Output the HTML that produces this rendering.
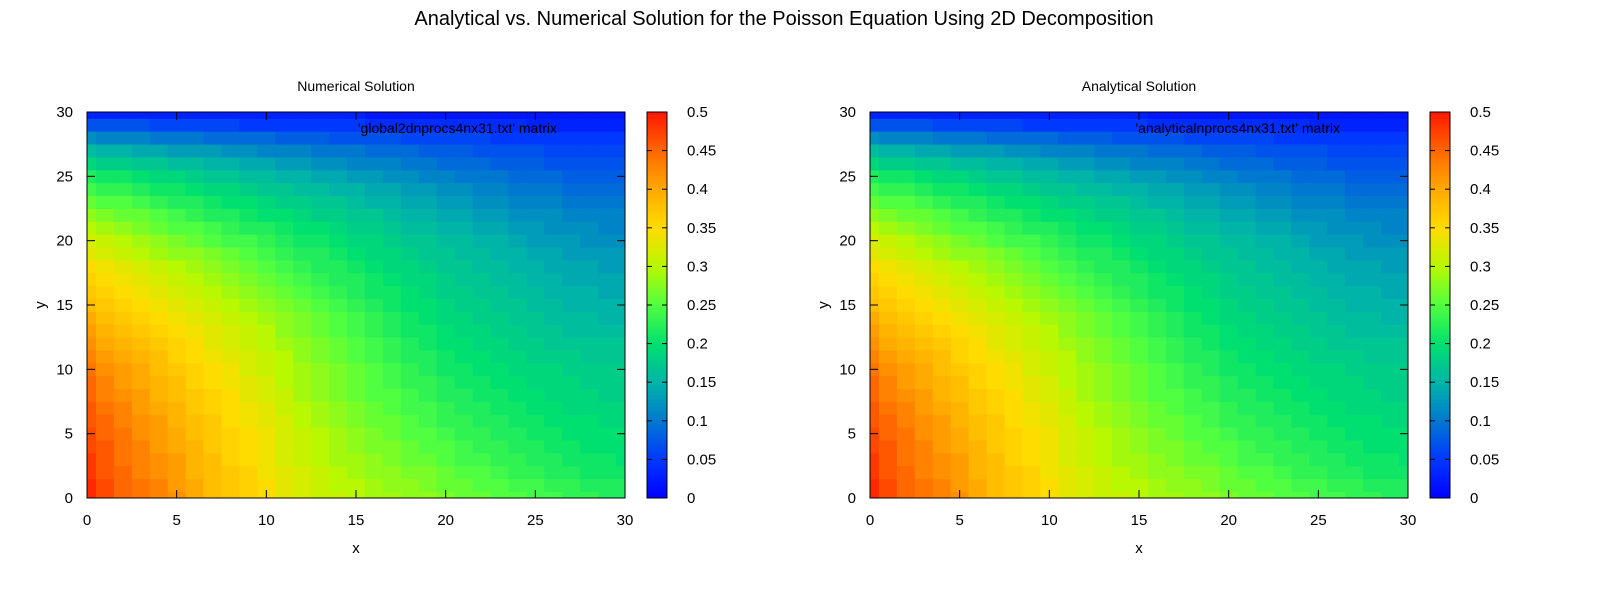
<!DOCTYPE html>
<html><head><meta charset="utf-8"><style>
html,body{margin:0;padding:0;background:#fff;overflow:hidden;width:1600px;height:600px;}
svg{display:block;}
svg text{font-family:"Liberation Sans",sans-serif;fill:#000;}
</style></head><body>
<svg id="chart" width="1600" height="600" xmlns="http://www.w3.org/2000/svg">
<text x="784" y="25" font-size="20" text-anchor="middle">Analytical vs. Numerical Solution for the Poisson Equation Using 2D Decomposition</text>
</svg>
<script>
const xTicks=[0,5,10,15,20,25,30];
const yTicks=[0,5,10,15,20,25,30];
const cbTicks=[0,0.05,0.1,0.15,0.2,0.25,0.3,0.35,0.4,0.45,0.5];
const cbLabels=["0","0.05","0.1","0.15","0.2","0.25","0.3","0.35","0.4","0.45","0.5"];
const paletteVals=[0,.05,.1,.15,.2,.25,.3,.35,.4,.45,.5];
const paletteCols=["#0000ff","#0038ff","#0078d0","#00b4a8","#00e070","#50ff40","#b8f800","#ffdc00","#ffaa00","#ff6800","#ff1800"];
const numericalZ=[
[.49,.47,.45,.44,.43,.42,.40,.38,.37,.36,.35,.33,.32,.31,.31,.30,.29,.29,.28,.28,.27,.26,.26,.25,.25,.24,.24,.23,.23,.22,.22],
[.49,.47,.45,.44,.43,.41,.40,.38,.37,.36,.35,.33,.32,.31,.30,.30,.29,.28,.28,.27,.26,.26,.25,.25,.24,.24,.23,.23,.22,.22,.22],
[.48,.46,.45,.43,.42,.41,.39,.38,.37,.36,.34,.33,.32,.31,.30,.29,.28,.28,.27,.27,.26,.25,.25,.24,.23,.23,.22,.22,.21,.21,.21],
[.48,.46,.44,.43,.42,.41,.39,.38,.36,.35,.34,.32,.31,.30,.29,.29,.28,.27,.26,.26,.25,.24,.24,.23,.23,.22,.22,.21,.21,.21,.20],
[.47,.46,.44,.43,.41,.40,.39,.37,.36,.35,.34,.32,.31,.30,.29,.28,.27,.27,.26,.25,.25,.24,.23,.23,.22,.22,.21,.21,.20,.20,.20],
[.47,.45,.44,.42,.41,.40,.38,.37,.36,.35,.34,.32,.31,.30,.29,.28,.27,.26,.25,.25,.24,.23,.23,.22,.22,.21,.21,.20,.20,.20,.20],
[.46,.45,.43,.42,.41,.39,.38,.37,.35,.34,.33,.32,.30,.29,.28,.27,.26,.26,.25,.24,.23,.23,.22,.22,.21,.21,.20,.20,.20,.19,.19],
[.46,.44,.43,.41,.40,.39,.37,.36,.35,.34,.33,.31,.30,.29,.28,.27,.26,.25,.24,.24,.23,.22,.22,.21,.21,.20,.20,.19,.19,.19,.19],
[.45,.43,.42,.41,.39,.38,.37,.36,.35,.33,.32,.31,.29,.28,.27,.26,.25,.25,.24,.23,.22,.22,.21,.21,.20,.20,.19,.19,.19,.18,.18],
[.45,.43,.41,.40,.39,.38,.36,.35,.34,.33,.32,.30,.29,.28,.27,.26,.25,.24,.23,.23,.22,.21,.21,.20,.20,.19,.19,.19,.18,.18,.18],
[.44,.42,.41,.40,.38,.37,.36,.35,.34,.32,.31,.30,.29,.28,.27,.26,.25,.24,.23,.22,.21,.21,.20,.20,.19,.19,.19,.18,.18,.18,.18],
[.43,.41,.40,.39,.38,.36,.35,.34,.33,.32,.31,.30,.28,.27,.26,.25,.24,.23,.22,.22,.21,.20,.20,.19,.19,.18,.18,.18,.17,.17,.17],
[.42,.40,.39,.38,.37,.36,.35,.33,.32,.31,.30,.29,.28,.27,.26,.25,.24,.23,.22,.21,.20,.20,.19,.19,.18,.18,.17,.17,.17,.17,.17],
[.41,.39,.38,.37,.36,.35,.34,.33,.32,.31,.30,.28,.27,.26,.25,.24,.23,.22,.21,.21,.20,.19,.19,.18,.18,.17,.17,.16,.16,.16,.16],
[.40,.38,.37,.36,.35,.34,.33,.32,.31,.30,.29,.28,.27,.26,.25,.24,.23,.22,.21,.20,.19,.19,.18,.18,.17,.17,.16,.16,.16,.15,.15],
[.38,.37,.36,.35,.34,.33,.32,.31,.30,.29,.28,.27,.26,.25,.24,.23,.22,.21,.20,.20,.19,.18,.18,.17,.17,.16,.16,.15,.15,.15,.15],
[.37,.36,.35,.34,.33,.32,.31,.30,.29,.28,.27,.26,.25,.24,.23,.22,.21,.21,.20,.19,.18,.18,.17,.17,.16,.16,.15,.15,.15,.14,.14],
[.36,.35,.34,.33,.32,.31,.30,.29,.28,.27,.26,.25,.24,.23,.22,.22,.21,.20,.19,.19,.18,.17,.17,.16,.16,.15,.15,.14,.14,.14,.14],
[.35,.34,.33,.32,.31,.30,.29,.28,.27,.26,.25,.24,.23,.22,.22,.21,.20,.19,.19,.18,.17,.17,.16,.16,.15,.15,.14,.14,.14,.13,.13],
[.33,.32,.31,.30,.29,.28,.28,.27,.26,.25,.24,.23,.22,.22,.21,.20,.19,.19,.18,.17,.17,.16,.16,.15,.15,.14,.14,.13,.13,.13,.13],
[.32,.31,.30,.29,.28,.27,.26,.25,.24,.24,.23,.22,.21,.21,.20,.19,.19,.18,.17,.17,.16,.16,.15,.15,.14,.13,.13,.13,.12,.12,.12],
[.30,.29,.28,.27,.26,.25,.25,.24,.23,.22,.22,.21,.20,.20,.19,.18,.18,.17,.16,.16,.15,.15,.14,.14,.13,.13,.12,.12,.12,.11,.11],
[.28,.27,.26,.26,.25,.24,.23,.22,.22,.21,.20,.20,.19,.18,.18,.17,.17,.16,.15,.15,.14,.14,.13,.13,.12,.12,.12,.11,.11,.11,.11],
[.26,.25,.25,.24,.23,.22,.22,.21,.20,.20,.19,.18,.18,.17,.17,.16,.15,.15,.14,.14,.13,.13,.12,.12,.11,.11,.11,.10,.10,.10,.10],
[.24,.23,.23,.22,.21,.21,.20,.19,.19,.18,.17,.17,.16,.16,.15,.15,.14,.14,.13,.13,.12,.12,.11,.11,.10,.10,.10,.09,.09,.09,.09],
[.22,.21,.21,.20,.19,.19,.18,.17,.17,.16,.16,.15,.15,.14,.14,.13,.13,.12,.12,.11,.11,.10,.10,.10,.09,.09,.09,.08,.08,.08,.08],
[.19,.18,.18,.17,.17,.16,.16,.15,.15,.14,.14,.13,.13,.12,.12,.11,.11,.11,.10,.10,.09,.09,.09,.08,.08,.08,.07,.07,.07,.07,.07],
[.16,.15,.15,.14,.14,.13,.13,.13,.12,.12,.11,.11,.11,.10,.10,.10,.09,.09,.09,.08,.08,.08,.07,.07,.07,.07,.06,.06,.06,.06,.06],
[.12,.11,.11,.11,.10,.10,.10,.09,.09,.09,.09,.08,.08,.08,.07,.07,.07,.07,.06,.06,.06,.06,.06,.05,.05,.05,.05,.05,.05,.05,.05],
[.07,.07,.07,.07,.06,.06,.06,.06,.06,.05,.05,.05,.05,.05,.05,.05,.04,.04,.04,.04,.04,.04,.04,.04,.04,.03,.03,.03,.03,.03,.03],
[.03,.03,.03,.03,.03,.03,.03,.03,.03,.03,.03,.03,.03,.03,.03,.03,.02,.02,.02,.02,.02,.02,.02,.02,.02,.02,.02,.02,.02,.02,.02]
];
const analyticalZ=numericalZ.map(r=>r.slice());

const NS="http://www.w3.org/2000/svg";
const svg=document.getElementById('chart');
function mk(tag,attrs,parent){const e=document.createElementNS(NS,tag);for(const k in attrs)e.setAttribute(k,attrs[k]);(parent||svg).appendChild(e);return e;}
function hex(c){return [parseInt(c.substr(1,2),16),parseInt(c.substr(3,2),16),parseInt(c.substr(5,2),16)];}
function color(v){
  if(v<=paletteVals[0])return paletteCols[0];
  for(let i=1;i<paletteVals.length;i++){
    if(v<=paletteVals[i]){const t=(v-paletteVals[i-1])/(paletteVals[i]-paletteVals[i-1]);
      const a=hex(paletteCols[i-1]),b=hex(paletteCols[i]);
      return 'rgb('+a.map((x,k)=>Math.round(x+(b[k]-x)*t)).join(',')+')';}
  }
  return paletteCols[paletteCols.length-1];
}
function panel(px,title,key,Z,name){
  const L=px,R=px+538,T=112,B=498,cbL=px+560,cbR=px+580;
  const g=mk('g',{});
  
  
  const xs=v=>L+(v-0)/(30-0)*(R-L), ys=v=>B-(v-0)/(30-0)*(B-T);
  const cz=v=>B-(v-0)/(0.5-0)*(B-T);
  const cells=mk('g',{},g);
  
  
  for(let j=0;j<Z.length;j++)for(let i=0;i<Z[j].length;i++){
    const x0=Math.max(L,xs(i-0.5)),x1=Math.min(R,xs(i+0.5));
    const y0=Math.max(T,ys(j+0.5)),y1=Math.min(B,ys(j-0.5));
    const r=mk('rect',{x:x0,y:y0,width:x1-x0+0.4,height:y1-y0+0.4,fill:color(Z[j][i])},cells);
    
    
  }
  const fr=mk('rect',{x:L,y:T,width:R-L,height:B-T,fill:'none',stroke:'#000','stroke-width':1},g);
  
  
  xTicks.forEach(v=>{const x=xs(v);
    mk('line',{x1:x,y1:B,x2:x,y2:B-8,stroke:'#000'},g);mk('line',{x1:x,y1:T,x2:x,y2:T+8,stroke:'#000'},g);
    const t=mk('text',{x:x,y:B+27,'font-size':15,'text-anchor':'middle'},g);t.textContent=v;
    
    });
  yTicks.forEach(v=>{const y=ys(v);
    mk('line',{x1:L,y1:y,x2:L+8,y2:y,stroke:'#000'},g);mk('line',{x1:R,y1:y,x2:R-8,y2:y,stroke:'#000'},g);
    const t=mk('text',{x:L-14,y:y+5,'font-size':15,'text-anchor':'end'},g);t.textContent=v;
    
    });
  const tt=mk('text',{x:(L+R)/2,y:91,'font-size':14,'text-anchor':'middle'},g);tt.textContent=title;
  
  
  const kt=mk('text',{x:L+470,y:133,'font-size':14,'text-anchor':'end'},g);kt.textContent=key;
  
  
  const xl=mk('text',{x:(L+R)/2,y:553,'font-size':15,'text-anchor':'middle'},g);xl.textContent='x';
  
  
  const yl=mk('text',{x:0,y:0,'font-size':15,'text-anchor':'middle',transform:'translate('+(L-42)+',305) rotate(-90)'},g);yl.textContent='y';
  
  
  const cb=mk('g',{},g);
  
  
  const N=200;
  for(let k=0;k<N;k++){const v0=0.5*k/N,v1=0.5*(k+1)/N;
    mk('rect',{x:cbL,y:cz(v1),width:cbR-cbL,height:cz(v0)-cz(v1)+0.5,fill:color((v0+v1)/2)},cb);}
  mk('rect',{x:cbL,y:T,width:cbR-cbL,height:B-T,fill:'none',stroke:'#000'},cb);
  cbTicks.forEach((v,i)=>{const y=cz(v);
    mk('line',{x1:cbL,y1:y,x2:cbL+5,y2:y,stroke:'#000'},cb);mk('line',{x1:cbR,y1:y,x2:cbR-5,y2:y,stroke:'#000'},cb);
    const t=mk('text',{x:cbR+20,y:y+5,'font-size':15},cb);t.textContent=cbLabels[i];
    
    });
}
panel(87,'Numerical Solution',"'global2dnprocs4nx31.txt' matrix",numericalZ,'numerical-panel');
panel(870,'Analytical Solution',"'analyticalnprocs4nx31.txt' matrix",analyticalZ,'analytical-panel');
</script>
</body></html>
